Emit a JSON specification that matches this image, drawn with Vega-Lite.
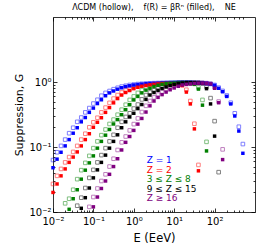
{
"$schema": "https://vega.github.io/schema/vega-lite/v6.json",
"width": 202, "height": 195,
"autosize": "none",
"padding": {"left": 53, "top": 17, "right": 5, "bottom": 37},
"title": {"text": "ΛCDM (hollow),\u00a0\u00a0\u00a0\u00a0f(R) = βRⁿ (filled),\u00a0\u00a0\u00a0\u00a0NE", "font": "DejaVu Sans", "fontSize": 8, "fontWeight": "normal", "anchor": "middle", "offset": 5, "color": "black"},
"config": {"view": {"stroke": null}, "font": "DejaVu Sans"},
"datasets": {
"pts": [
{"s":"1","t":"h","E":0.01,"G":0.063},{"s":"1","t":"h","E":0.0126,"G":0.083},{"s":"1","t":"h","E":0.0158,"G":0.104},{"s":"1","t":"h","E":0.02,"G":0.13},{"s":"1","t":"h","E":0.0251,"G":0.163},{"s":"1","t":"h","E":0.0316,"G":0.198},{"s":"1","t":"h","E":0.0398,"G":0.244},{"s":"1","t":"h","E":0.0501,"G":0.284},{"s":"1","t":"h","E":0.0631,"G":0.341},{"s":"1","t":"h","E":0.0794,"G":0.397},{"s":"1","t":"h","E":0.1,"G":0.466},{"s":"1","t":"h","E":0.126,"G":0.533},{"s":"1","t":"h","E":0.158,"G":0.615},{"s":"1","t":"h","E":0.2,"G":0.68},{"s":"1","t":"h","E":0.251,"G":0.727},{"s":"1","t":"h","E":0.316,"G":0.775},{"s":"1","t":"h","E":0.398,"G":0.815},{"s":"1","t":"h","E":0.501,"G":0.85},{"s":"1","t":"h","E":0.631,"G":0.875},{"s":"1","t":"h","E":0.794,"G":0.9},{"s":"1","t":"h","E":1,"G":0.915},{"s":"1","t":"h","E":1.26,"G":0.93},{"s":"1","t":"h","E":1.58,"G":0.94},{"s":"1","t":"h","E":2,"G":0.95},{"s":"1","t":"h","E":2.51,"G":0.955},{"s":"1","t":"h","E":3.16,"G":0.96},{"s":"1","t":"h","E":3.98,"G":0.965},{"s":"1","t":"h","E":5.01,"G":0.97},{"s":"1","t":"h","E":6.31,"G":0.975},{"s":"1","t":"h","E":7.94,"G":0.98},{"s":"1","t":"h","E":10,"G":0.985},{"s":"1","t":"h","E":12.6,"G":0.985},{"s":"1","t":"h","E":15.8,"G":0.985},{"s":"1","t":"h","E":20,"G":0.985},{"s":"1","t":"h","E":25.1,"G":0.985},{"s":"1","t":"h","E":31.6,"G":0.98},{"s":"1","t":"h","E":39.8,"G":0.975},{"s":"1","t":"h","E":50.1,"G":0.965},{"s":"1","t":"h","E":63.1,"G":0.955},{"s":"1","t":"h","E":79.4,"G":0.935},{"s":"1","t":"h","E":100,"G":0.9},{"s":"1","t":"h","E":126,"G":0.82},{"s":"1","t":"h","E":158,"G":0.73},{"s":"1","t":"h","E":200,"G":0.62},{"s":"1","t":"h","E":251,"G":0.48},{"s":"1","t":"h","E":316,"G":0.33},{"s":"1","t":"h","E":398,"G":0.205},{"s":"1","t":"h","E":501,"G":0.111},
{"s":"2","t":"h","E":0.01,"G":0.027},{"s":"2","t":"h","E":0.0126,"G":0.036},{"s":"2","t":"h","E":0.0158,"G":0.046},{"s":"2","t":"h","E":0.02,"G":0.058},{"s":"2","t":"h","E":0.0251,"G":0.07},{"s":"2","t":"h","E":0.0316,"G":0.084},{"s":"2","t":"h","E":0.0398,"G":0.104},{"s":"2","t":"h","E":0.0501,"G":0.13},{"s":"2","t":"h","E":0.0631,"G":0.16},{"s":"2","t":"h","E":0.0794,"G":0.201},{"s":"2","t":"h","E":0.1,"G":0.24},{"s":"2","t":"h","E":0.126,"G":0.282},{"s":"2","t":"h","E":0.158,"G":0.341},{"s":"2","t":"h","E":0.2,"G":0.404},{"s":"2","t":"h","E":0.251,"G":0.478},{"s":"2","t":"h","E":0.316,"G":0.556},{"s":"2","t":"h","E":0.398,"G":0.63},{"s":"2","t":"h","E":0.501,"G":0.69},{"s":"2","t":"h","E":0.631,"G":0.74},{"s":"2","t":"h","E":0.794,"G":0.79},{"s":"2","t":"h","E":1,"G":0.83},{"s":"2","t":"h","E":1.26,"G":0.86},{"s":"2","t":"h","E":1.58,"G":0.885},{"s":"2","t":"h","E":2,"G":0.905},{"s":"2","t":"h","E":2.51,"G":0.92},{"s":"2","t":"h","E":3.16,"G":0.935},{"s":"2","t":"h","E":3.98,"G":0.945},{"s":"2","t":"h","E":5.01,"G":0.95},{"s":"2","t":"h","E":6.31,"G":0.955},{"s":"2","t":"h","E":7.94,"G":0.955},{"s":"2","t":"h","E":10,"G":0.95},{"s":"2","t":"h","E":12.6,"G":0.94},{"s":"2","t":"h","E":15.8,"G":0.9},{"s":"2","t":"h","E":20,"G":0.76},{"s":"2","t":"h","E":25.1,"G":0.51},{"s":"2","t":"h","E":31.6,"G":0.228},{"s":"2","t":"h","E":39.8,"G":0.053},
{"s":"3","t":"h","E":0.02,"G":0.0136},{"s":"3","t":"h","E":0.0251,"G":0.016},{"s":"3","t":"h","E":0.0316,"G":0.022},{"s":"3","t":"h","E":0.0398,"G":0.032},{"s":"3","t":"h","E":0.0501,"G":0.044},{"s":"3","t":"h","E":0.0631,"G":0.057},{"s":"3","t":"h","E":0.0794,"G":0.073},{"s":"3","t":"h","E":0.1,"G":0.096},{"s":"3","t":"h","E":0.126,"G":0.122},{"s":"3","t":"h","E":0.158,"G":0.152},{"s":"3","t":"h","E":0.2,"G":0.186},{"s":"3","t":"h","E":0.251,"G":0.226},{"s":"3","t":"h","E":0.316,"G":0.264},{"s":"3","t":"h","E":0.398,"G":0.314},{"s":"3","t":"h","E":0.501,"G":0.375},{"s":"3","t":"h","E":0.631,"G":0.447},{"s":"3","t":"h","E":0.794,"G":0.53},{"s":"3","t":"h","E":1,"G":0.6},{"s":"3","t":"h","E":1.26,"G":0.68},{"s":"3","t":"h","E":1.58,"G":0.75},{"s":"3","t":"h","E":2,"G":0.8},{"s":"3","t":"h","E":2.51,"G":0.85},{"s":"3","t":"h","E":3.16,"G":0.89},{"s":"3","t":"h","E":3.98,"G":0.92},{"s":"3","t":"h","E":5.01,"G":0.945},{"s":"3","t":"h","E":6.31,"G":0.955},{"s":"3","t":"h","E":7.94,"G":0.96},{"s":"3","t":"h","E":10,"G":0.965},{"s":"3","t":"h","E":12.6,"G":0.968},{"s":"3","t":"h","E":15.8,"G":0.968},{"s":"3","t":"h","E":20,"G":0.965},{"s":"3","t":"h","E":25.1,"G":0.96},{"s":"3","t":"h","E":31.6,"G":0.94},{"s":"3","t":"h","E":39.8,"G":0.824},{"s":"3","t":"h","E":50.1,"G":0.53},{"s":"3","t":"h","E":63.1,"G":0.12},
{"s":"4","t":"h","E":0.0398,"G":0.0125},{"s":"4","t":"h","E":0.0501,"G":0.0166},{"s":"4","t":"h","E":0.0631,"G":0.0234},{"s":"4","t":"h","E":0.0794,"G":0.0335},{"s":"4","t":"h","E":0.1,"G":0.0445},{"s":"4","t":"h","E":0.126,"G":0.058},{"s":"4","t":"h","E":0.158,"G":0.075},{"s":"4","t":"h","E":0.2,"G":0.096},{"s":"4","t":"h","E":0.251,"G":0.122},{"s":"4","t":"h","E":0.316,"G":0.154},{"s":"4","t":"h","E":0.398,"G":0.198},{"s":"4","t":"h","E":0.501,"G":0.244},{"s":"4","t":"h","E":0.631,"G":0.29},{"s":"4","t":"h","E":0.794,"G":0.33},{"s":"4","t":"h","E":1,"G":0.39},{"s":"4","t":"h","E":1.26,"G":0.45},{"s":"4","t":"h","E":1.58,"G":0.54},{"s":"4","t":"h","E":2,"G":0.63},{"s":"4","t":"h","E":2.51,"G":0.69},{"s":"4","t":"h","E":3.16,"G":0.745},{"s":"4","t":"h","E":3.98,"G":0.795},{"s":"4","t":"h","E":5.01,"G":0.84},{"s":"4","t":"h","E":6.31,"G":0.88},{"s":"4","t":"h","E":7.94,"G":0.915},{"s":"4","t":"h","E":10,"G":0.95},{"s":"4","t":"h","E":12.6,"G":0.965},{"s":"4","t":"h","E":15.8,"G":0.975},{"s":"4","t":"h","E":20,"G":0.98},{"s":"4","t":"h","E":25.1,"G":0.98},{"s":"4","t":"h","E":31.6,"G":0.98},{"s":"4","t":"h","E":39.8,"G":0.975},{"s":"4","t":"h","E":50.1,"G":0.96},{"s":"4","t":"h","E":63.1,"G":0.84},{"s":"4","t":"h","E":79.4,"G":0.565},{"s":"4","t":"h","E":100,"G":0.25},{"s":"4","t":"h","E":126,"G":0.041},
{"s":"5","t":"h","E":0.0794,"G":0.012},{"s":"5","t":"h","E":0.1,"G":0.017},{"s":"5","t":"h","E":0.126,"G":0.023},{"s":"5","t":"h","E":0.158,"G":0.03},{"s":"5","t":"h","E":0.2,"G":0.038},{"s":"5","t":"h","E":0.251,"G":0.05},{"s":"5","t":"h","E":0.316,"G":0.066},{"s":"5","t":"h","E":0.398,"G":0.09},{"s":"5","t":"h","E":0.501,"G":0.118},{"s":"5","t":"h","E":0.631,"G":0.145},{"s":"5","t":"h","E":0.794,"G":0.18},{"s":"5","t":"h","E":1,"G":0.225},{"s":"5","t":"h","E":1.26,"G":0.275},{"s":"5","t":"h","E":1.58,"G":0.345},{"s":"5","t":"h","E":2,"G":0.43},{"s":"5","t":"h","E":2.51,"G":0.51},{"s":"5","t":"h","E":3.16,"G":0.58},{"s":"5","t":"h","E":3.98,"G":0.64},{"s":"5","t":"h","E":5.01,"G":0.7},{"s":"5","t":"h","E":6.31,"G":0.76},{"s":"5","t":"h","E":7.94,"G":0.81},{"s":"5","t":"h","E":10,"G":0.86},{"s":"5","t":"h","E":12.6,"G":0.9},{"s":"5","t":"h","E":15.8,"G":0.92},{"s":"5","t":"h","E":20,"G":0.935},{"s":"5","t":"h","E":25.1,"G":0.95},{"s":"5","t":"h","E":31.6,"G":0.96},{"s":"5","t":"h","E":39.8,"G":0.965},{"s":"5","t":"h","E":50.1,"G":0.965},{"s":"5","t":"h","E":63.1,"G":0.96},{"s":"5","t":"h","E":79.4,"G":0.94},{"s":"5","t":"h","E":100,"G":0.83},{"s":"5","t":"h","E":126,"G":0.5},{"s":"5","t":"h","E":158,"G":0.092},
{"s":"1","t":"f","E":0.01,"G":0.048},{"s":"1","t":"f","E":0.0126,"G":0.065},{"s":"1","t":"f","E":0.0158,"G":0.083},{"s":"1","t":"f","E":0.02,"G":0.104},{"s":"1","t":"f","E":0.0251,"G":0.13},{"s":"1","t":"f","E":0.0316,"G":0.163},{"s":"1","t":"f","E":0.0398,"G":0.198},{"s":"1","t":"f","E":0.0501,"G":0.244},{"s":"1","t":"f","E":0.0631,"G":0.284},{"s":"1","t":"f","E":0.0794,"G":0.341},{"s":"1","t":"f","E":0.1,"G":0.397},{"s":"1","t":"f","E":0.126,"G":0.466},{"s":"1","t":"f","E":0.158,"G":0.533},{"s":"1","t":"f","E":0.2,"G":0.615},{"s":"1","t":"f","E":0.251,"G":0.68},{"s":"1","t":"f","E":0.316,"G":0.727},{"s":"1","t":"f","E":0.398,"G":0.775},{"s":"1","t":"f","E":0.501,"G":0.815},{"s":"1","t":"f","E":0.631,"G":0.85},{"s":"1","t":"f","E":0.794,"G":0.875},{"s":"1","t":"f","E":1,"G":0.9},{"s":"1","t":"f","E":1.26,"G":0.915},{"s":"1","t":"f","E":1.58,"G":0.93},{"s":"1","t":"f","E":2,"G":0.94},{"s":"1","t":"f","E":2.51,"G":0.95},{"s":"1","t":"f","E":3.16,"G":0.955},{"s":"1","t":"f","E":3.98,"G":0.96},{"s":"1","t":"f","E":5.01,"G":0.965},{"s":"1","t":"f","E":6.31,"G":0.97},{"s":"1","t":"f","E":7.94,"G":0.975},{"s":"1","t":"f","E":10,"G":0.975},{"s":"1","t":"f","E":12.6,"G":0.98},{"s":"1","t":"f","E":15.8,"G":0.98},{"s":"1","t":"f","E":20,"G":0.98},{"s":"1","t":"f","E":25.1,"G":0.98},{"s":"1","t":"f","E":31.6,"G":0.975},{"s":"1","t":"f","E":39.8,"G":0.97},{"s":"1","t":"f","E":50.1,"G":0.96},{"s":"1","t":"f","E":63.1,"G":0.95},{"s":"1","t":"f","E":79.4,"G":0.93},{"s":"1","t":"f","E":100,"G":0.89},{"s":"1","t":"f","E":126,"G":0.8},{"s":"1","t":"f","E":158,"G":0.71},{"s":"1","t":"f","E":200,"G":0.6},{"s":"1","t":"f","E":251,"G":0.46},{"s":"1","t":"f","E":316,"G":0.3},{"s":"1","t":"f","E":398,"G":0.176},{"s":"1","t":"f","E":501,"G":0.08},
{"s":"2","t":"f","E":0.01,"G":0.02},{"s":"2","t":"f","E":0.0126,"G":0.027},{"s":"2","t":"f","E":0.0158,"G":0.036},{"s":"2","t":"f","E":0.02,"G":0.046},{"s":"2","t":"f","E":0.0251,"G":0.058},{"s":"2","t":"f","E":0.0316,"G":0.07},{"s":"2","t":"f","E":0.0398,"G":0.084},{"s":"2","t":"f","E":0.0501,"G":0.104},{"s":"2","t":"f","E":0.0631,"G":0.13},{"s":"2","t":"f","E":0.0794,"G":0.16},{"s":"2","t":"f","E":0.1,"G":0.201},{"s":"2","t":"f","E":0.126,"G":0.24},{"s":"2","t":"f","E":0.158,"G":0.282},{"s":"2","t":"f","E":0.2,"G":0.341},{"s":"2","t":"f","E":0.251,"G":0.404},{"s":"2","t":"f","E":0.316,"G":0.478},{"s":"2","t":"f","E":0.398,"G":0.556},{"s":"2","t":"f","E":0.501,"G":0.63},{"s":"2","t":"f","E":0.631,"G":0.69},{"s":"2","t":"f","E":0.794,"G":0.74},{"s":"2","t":"f","E":1,"G":0.79},{"s":"2","t":"f","E":1.26,"G":0.83},{"s":"2","t":"f","E":1.58,"G":0.86},{"s":"2","t":"f","E":2,"G":0.885},{"s":"2","t":"f","E":2.51,"G":0.905},{"s":"2","t":"f","E":3.16,"G":0.92},{"s":"2","t":"f","E":3.98,"G":0.935},{"s":"2","t":"f","E":5.01,"G":0.945},{"s":"2","t":"f","E":6.31,"G":0.95},{"s":"2","t":"f","E":7.94,"G":0.95},{"s":"2","t":"f","E":10,"G":0.945},{"s":"2","t":"f","E":12.6,"G":0.93},{"s":"2","t":"f","E":15.8,"G":0.88},{"s":"2","t":"f","E":20,"G":0.7},{"s":"2","t":"f","E":25.1,"G":0.46},{"s":"2","t":"f","E":31.6,"G":0.19},{"s":"2","t":"f","E":39.8,"G":0.043},
{"s":"3","t":"f","E":0.0251,"G":0.011},{"s":"3","t":"f","E":0.0316,"G":0.016},{"s":"3","t":"f","E":0.0398,"G":0.022},{"s":"3","t":"f","E":0.0501,"G":0.032},{"s":"3","t":"f","E":0.0631,"G":0.044},{"s":"3","t":"f","E":0.0794,"G":0.057},{"s":"3","t":"f","E":0.1,"G":0.073},{"s":"3","t":"f","E":0.126,"G":0.096},{"s":"3","t":"f","E":0.158,"G":0.122},{"s":"3","t":"f","E":0.2,"G":0.152},{"s":"3","t":"f","E":0.251,"G":0.186},{"s":"3","t":"f","E":0.316,"G":0.226},{"s":"3","t":"f","E":0.398,"G":0.264},{"s":"3","t":"f","E":0.501,"G":0.314},{"s":"3","t":"f","E":0.631,"G":0.375},{"s":"3","t":"f","E":0.794,"G":0.447},{"s":"3","t":"f","E":1,"G":0.53},{"s":"3","t":"f","E":1.26,"G":0.6},{"s":"3","t":"f","E":1.58,"G":0.68},{"s":"3","t":"f","E":2,"G":0.75},{"s":"3","t":"f","E":2.51,"G":0.8},{"s":"3","t":"f","E":3.16,"G":0.85},{"s":"3","t":"f","E":3.98,"G":0.89},{"s":"3","t":"f","E":5.01,"G":0.92},{"s":"3","t":"f","E":6.31,"G":0.945},{"s":"3","t":"f","E":7.94,"G":0.955},{"s":"3","t":"f","E":10,"G":0.96},{"s":"3","t":"f","E":12.6,"G":0.965},{"s":"3","t":"f","E":15.8,"G":0.965},{"s":"3","t":"f","E":20,"G":0.96},{"s":"3","t":"f","E":25.1,"G":0.95},{"s":"3","t":"f","E":31.6,"G":0.92},{"s":"3","t":"f","E":39.8,"G":0.778},{"s":"3","t":"f","E":50.1,"G":0.44},{"s":"3","t":"f","E":63.1,"G":0.087},
{"s":"4","t":"f","E":0.0501,"G":0.0114},{"s":"4","t":"f","E":0.0631,"G":0.0166},{"s":"4","t":"f","E":0.0794,"G":0.0234},{"s":"4","t":"f","E":0.1,"G":0.0335},{"s":"4","t":"f","E":0.126,"G":0.0445},{"s":"4","t":"f","E":0.158,"G":0.058},{"s":"4","t":"f","E":0.2,"G":0.075},{"s":"4","t":"f","E":0.251,"G":0.096},{"s":"4","t":"f","E":0.316,"G":0.122},{"s":"4","t":"f","E":0.398,"G":0.154},{"s":"4","t":"f","E":0.501,"G":0.198},{"s":"4","t":"f","E":0.631,"G":0.244},{"s":"4","t":"f","E":0.794,"G":0.29},{"s":"4","t":"f","E":1,"G":0.33},{"s":"4","t":"f","E":1.26,"G":0.39},{"s":"4","t":"f","E":1.58,"G":0.45},{"s":"4","t":"f","E":2,"G":0.54},{"s":"4","t":"f","E":2.51,"G":0.63},{"s":"4","t":"f","E":3.16,"G":0.69},{"s":"4","t":"f","E":3.98,"G":0.745},{"s":"4","t":"f","E":5.01,"G":0.795},{"s":"4","t":"f","E":6.31,"G":0.84},{"s":"4","t":"f","E":7.94,"G":0.88},{"s":"4","t":"f","E":10,"G":0.915},{"s":"4","t":"f","E":12.6,"G":0.95},{"s":"4","t":"f","E":15.8,"G":0.965},{"s":"4","t":"f","E":20,"G":0.975},{"s":"4","t":"f","E":25.1,"G":0.975},{"s":"4","t":"f","E":31.6,"G":0.975},{"s":"4","t":"f","E":39.8,"G":0.97},{"s":"4","t":"f","E":50.1,"G":0.95},{"s":"4","t":"f","E":63.1,"G":0.79},{"s":"4","t":"f","E":79.4,"G":0.46},{"s":"4","t":"f","E":100,"G":0.147},
{"s":"5","t":"f","E":0.1,"G":0.012},{"s":"5","t":"f","E":0.126,"G":0.017},{"s":"5","t":"f","E":0.158,"G":0.023},{"s":"5","t":"f","E":0.2,"G":0.03},{"s":"5","t":"f","E":0.251,"G":0.038},{"s":"5","t":"f","E":0.316,"G":0.05},{"s":"5","t":"f","E":0.398,"G":0.066},{"s":"5","t":"f","E":0.501,"G":0.09},{"s":"5","t":"f","E":0.631,"G":0.118},{"s":"5","t":"f","E":0.794,"G":0.145},{"s":"5","t":"f","E":1,"G":0.18},{"s":"5","t":"f","E":1.26,"G":0.225},{"s":"5","t":"f","E":1.58,"G":0.275},{"s":"5","t":"f","E":2,"G":0.345},{"s":"5","t":"f","E":2.51,"G":0.43},{"s":"5","t":"f","E":3.16,"G":0.51},{"s":"5","t":"f","E":3.98,"G":0.58},{"s":"5","t":"f","E":5.01,"G":0.64},{"s":"5","t":"f","E":6.31,"G":0.7},{"s":"5","t":"f","E":7.94,"G":0.76},{"s":"5","t":"f","E":10,"G":0.81},{"s":"5","t":"f","E":12.6,"G":0.86},{"s":"5","t":"f","E":15.8,"G":0.9},{"s":"5","t":"f","E":20,"G":0.92},{"s":"5","t":"f","E":25.1,"G":0.935},{"s":"5","t":"f","E":31.6,"G":0.95},{"s":"5","t":"f","E":39.8,"G":0.96},{"s":"5","t":"f","E":50.1,"G":0.96},{"s":"5","t":"f","E":63.1,"G":0.955},{"s":"5","t":"f","E":79.4,"G":0.935},{"s":"5","t":"f","E":100,"G":0.8},{"s":"5","t":"f","E":126,"G":0.48},{"s":"5","t":"f","E":158,"G":0.064}
],
"labs": [
{"s":"1","label":"Z = 1","E":2.08,"G":0.0623},
{"s":"2","label":"Z = 2","E":2.08,"G":0.0449},
{"s":"3","label":"3 ≤ Z ≤ 8","E":2.08,"G":0.0318},
{"s":"4","label":"9 ≤ Z ≤ 15","E":2.08,"G":0.0228},
{"s":"5","label":"Z ≥ 16","E":2.08,"G":0.0163}
]
},
"layer": [
{
"data": {"name": "pts"},
"transform": [{"filter": "datum.t == 'h'"}],
"mark": {"type": "point", "shape": "square", "filled": false, "size": 13, "strokeWidth": 0.9, "opacity": 0.55},
"encoding": {
"x": {"field": "E", "type": "quantitative", "scale": {"type": "log", "domain": [0.01, 500]},
"axis": {"orient": "bottom", "title": "E (EeV)", "titleFont": "DejaVu Sans", "titleFontSize": 11.5, "titleFontWeight": "normal", "titleColor": "black", "titlePadding": 4,
"values": [0.01,0.02,0.03,0.04,0.05,0.06,0.07,0.08,0.09,0.1,0.2,0.3,0.4,0.5,0.6,0.7,0.8,0.9,1,2,3,4,5,6,7,8,9,10,20,30,40,50,60,70,80,90,100,200,300,400,500],
"labelExpr": "abs(log(datum.value)/LN10 - round(log(datum.value)/LN10)) > 0.001 ? '' : round(log(datum.value)/LN10) == -2 ? '10⁻²' : round(log(datum.value)/LN10) == -1 ? '10⁻¹' : round(log(datum.value)/LN10) == 0 ? '10⁰' : round(log(datum.value)/LN10) == 1 ? '10¹' : '10²'",
"labelFont": "DejaVu Sans", "labelFontSize": 10, "labelColor": "black", "labelOverlap": false, "labelFlush": false, "labelPadding": 8,
"tickColor": "black", "tickWidth": 0.8, "tickSize": {"condition": {"test": "abs(log(datum.value)/LN10 - round(log(datum.value)/LN10)) < 0.001", "value": -4}, "value": -2},
"domainColor": "black", "domainWidth": 0.8, "grid": false}},
"y": {"field": "G", "type": "quantitative", "scale": {"type": "log", "domain": [0.01, 1.35]},
"axis": {"orient": "left", "title": "Suppression, G", "titleFont": "DejaVu Sans", "titleFontSize": 11, "titleFontWeight": "normal", "titleColor": "black", "titlePadding": 4,
"values": [0.01,0.02,0.03,0.04,0.05,0.06,0.07,0.08,0.09,0.1,0.2,0.3,0.4,0.5,0.6,0.7,0.8,0.9,1],
"labelExpr": "abs(log(datum.value)/LN10 - round(log(datum.value)/LN10)) > 0.001 ? '' : round(log(datum.value)/LN10) == -2 ? '10⁻²' : round(log(datum.value)/LN10) == -1 ? '10⁻¹' : '10⁰'",
"labelFont": "DejaVu Sans", "labelFontSize": 10, "labelColor": "black", "labelOverlap": false, "labelFlush": false, "labelPadding": 6,
"tickColor": "black", "tickWidth": 0.8, "tickSize": {"condition": {"test": "abs(log(datum.value)/LN10 - round(log(datum.value)/LN10)) < 0.001", "value": -4}, "value": -2},
"domainColor": "black", "domainWidth": 0.8, "grid": false}},
"color": {"field": "s", "type": "nominal", "scale": {"domain": ["1","2","3","4","5"], "range": ["#0000ff","#ff0000","#008000","#000000","#800080"]}, "legend": null}
}
},
{
"data": {"name": "pts"},
"transform": [{"filter": "datum.t == 'f'"}],
"mark": {"type": "point", "shape": "square", "filled": true, "size": 12, "opacity": 1},
"encoding": {
"x": {"field": "E", "type": "quantitative", "scale": {"type": "log", "domain": [0.01, 500]},
"axis": {"orient": "top", "title": null, "labels": false,
"values": [0.01,0.02,0.03,0.04,0.05,0.06,0.07,0.08,0.09,0.1,0.2,0.3,0.4,0.5,0.6,0.7,0.8,0.9,1,2,3,4,5,6,7,8,9,10,20,30,40,50,60,70,80,90,100,200,300,400,500],
"tickColor": "black", "tickWidth": 0.8, "tickSize": {"condition": {"test": "abs(log(datum.value)/LN10 - round(log(datum.value)/LN10)) < 0.001", "value": -4}, "value": -2},
"domainColor": "black", "domainWidth": 0.8, "grid": false}},
"y": {"field": "G", "type": "quantitative", "scale": {"type": "log", "domain": [0.01, 1.35]},
"axis": {"orient": "right", "title": null, "labels": false,
"values": [0.01,0.02,0.03,0.04,0.05,0.06,0.07,0.08,0.09,0.1,0.2,0.3,0.4,0.5,0.6,0.7,0.8,0.9,1],
"tickColor": "black", "tickWidth": 0.8, "tickSize": {"condition": {"test": "abs(log(datum.value)/LN10 - round(log(datum.value)/LN10)) < 0.001", "value": -4}, "value": -2},
"domainColor": "black", "domainWidth": 0.8, "grid": false}},
"color": {"field": "s", "type": "nominal", "legend": null}
}
},
{
"data": {"name": "labs"},
"mark": {"type": "text", "align": "left", "baseline": "middle", "font": "DejaVu Sans", "fontSize": 9},
"encoding": {
"x": {"field": "E", "type": "quantitative", "axis": null},
"y": {"field": "G", "type": "quantitative", "axis": null},
"text": {"field": "label"},
"color": {"field": "s", "type": "nominal", "legend": null}
}
}
],
"resolve": {"axis": {"x": "independent", "y": "independent"}}
}
